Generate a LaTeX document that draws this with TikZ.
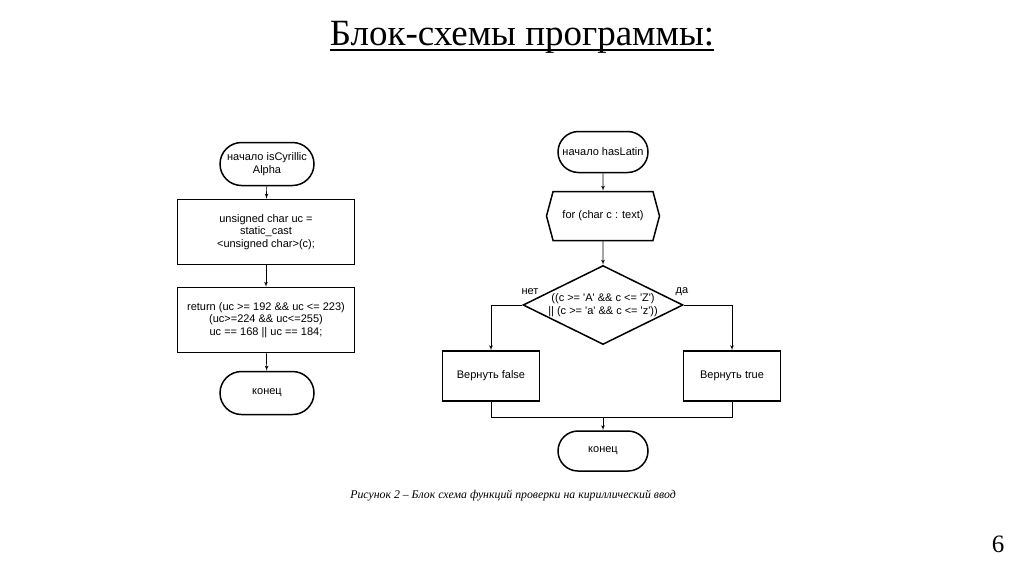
\documentclass[tikz,border=0pt]{standalone}
\usepackage{fontspec}
\setmainfont{Liberation Serif}
\newfontfamily\blockfont{Liberation Sans}
\usetikzlibrary{shapes.geometric,shapes.misc,shapes.symbols,arrows}

\tikzstyle{terminal} = [rounded rectangle, draw, line width=1.5pt, 
align=center, minimum width=98pt, minimum height=43pt, inner sep=2pt]
\tikzstyle{process} = [rectangle, draw, line width=1.5pt, 
align=center, minimum width=177pt, minimum height=65pt]
\tikzstyle{result} = [rectangle, draw, line width=1.5pt, 
align=center, minimum width=97pt, minimum height=50pt]
\tikzstyle{loop_head} = [signal, signal to=west and east, signal pointer angle=150, draw, line width=1.5pt, 
minimum width=113pt, minimum height=49pt]
\tikzstyle{decision} = [diamond, draw, line width=1.5pt, align=center, aspect=2, 
minimum width=160pt, minimum height=79pt, inner sep=0pt]
\tikzstyle{line} = [draw, line width=0.7pt, -latex']

\begin{document}
\begin{tikzpicture}[x=1pt, y=-1pt, font=\blockfont\fontsize{11}{12.5}\selectfont]
	\useasboundingbox (0,0) rectangle (1024,574);

	%Title
	\node [inner sep=0pt] (title) at (522,37) {\rmfamily\fontsize{37}{40}\selectfont Блок-схемы программы:};
	\draw [line width=1.6pt] ([yshift=-5pt]title.base west) -- ([yshift=-5pt]title.base east);

	%Left chart
	\node [terminal] (cstart) at (267,164) {начало isCyrillic\\Alpha};
	\node [process] (cast) at (266,232) {unsigned char uc =\\static\_cast\\<unsigned char>(c);};
	\node [process] (cret) at (266,320) {return (uc >= 192 \&\& uc <= 223)\\(uc>=224 \&\& uc<=255)\\uc == 168 || uc == 184;};
	\node [terminal] (cend) at (267,393) {конец};

	%Right chart
	\node [terminal, minimum width=94pt, minimum height=41pt] (lstart) at (603,152) {начало hasLatin};
	\node [loop_head] (lloop) at (603,216) {for (char c : text)};
	\node [decision] (lcheck) at (603,305) {((c >= 'A' \&\& c <= 'Z')\\|| (c >= 'a' \&\& c <= 'z'))};
	\node [result] (lfalse) at (491,376) {Вернуть false};
	\node [result] (ltrue) at (732,376) {Вернуть true};
	\node [terminal, minimum width=94pt, minimum height=40pt] (lend) at (603,451) {конец};
	\coordinate (lmerge) at (603,417);

	\node (no) at (530,292) {нет};
	\node (yes) at (682,292) {да};

	%Caption
	\node (caption) at (513,496) {\rmfamily\itshape\fontsize{11.8}{13}\selectfont Рисунок 2 – Блок схема функций проверки на кириллический ввод};
	\node (page) at (998,544) {\rmfamily\fontsize{25}{27}\selectfont 6};

	%Lines
	\path [line] (cstart) -- (cast);
	\path [line] (cast) -- (cret);
	\path [line] (cret) -- (cend);

	\path [line] (lstart) -- (lloop);
	\path [line] (lloop) -- (lcheck);
	\path [line] (lcheck.west) -| (lfalse.north);
	\path [line] (lcheck.east) -| (ltrue.north);
	\draw [line width=0.7pt] (lfalse.south) |- (lmerge);
	\draw [line width=0.7pt] (ltrue.south) |- (lmerge);
	\path [line] (lmerge) -- (lend);
\end{tikzpicture}
\end{document}
